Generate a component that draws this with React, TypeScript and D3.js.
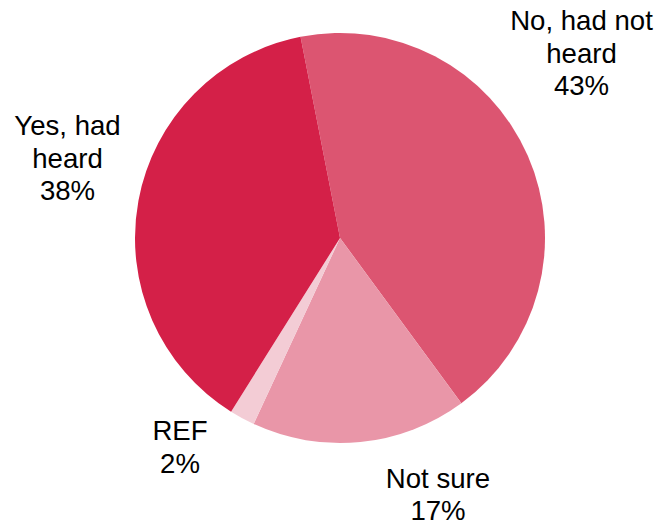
import React from "react";
import * as d3 from "d3";

const categories = ["No, had not heard", "Not sure", "REF", "Yes, had heard"];
const values = [43, 17, 2, 38];
const labelLines = [["No, had not", "heard"], ["Not sure"], ["REF"], ["Yes, had", "heard"]];
const colors = ["#dc5571", "#e996a8", "#f3ccd5", "#d42048"];

// label block anchor: [x, first baseline]
const labelAnchors: Record<string, [number, number]> = {
  "No, had not heard": [581.5, 30],
  "Not sure": [438, 487.5],
  "REF": [180, 440],
  "Yes, had heard": [67.5, 135],
};

const W = 656;
const H = 522;
const CX = 340;
const CY = 238;
const R = 205;
const START = (-11.1 * Math.PI) / 180;
const LINE_H = 32.5;

export default function App() {
  const pie = d3
    .pie<number>()
    .sort(null)
    .startAngle(START)
    .endAngle(START + 2 * Math.PI)
    .value((d) => d);
  const arcs = pie(values);
  const arc = d3.arc<d3.PieArcDatum<number>>().innerRadius(0).outerRadius(R);

  return (
    <svg
      width={W}
      height={H}
      style={{ position: "absolute", left: 0, top: 0, background: "#fff" }}
      fontFamily="'Liberation Sans', Arial, sans-serif"
    >
      <g transform={`translate(${CX},${CY})`}>
        {arcs.map((a, i) => (
          <path key={categories[i]} d={arc(a) || ""} fill={colors[i]} />
        ))}
      </g>
      {categories.map((c, i) => {
        const [x, y] = labelAnchors[c];
        const lines = [...labelLines[i], `${values[i]}%`];
        return (
          <text key={c} x={x} y={y} textAnchor="middle" fontSize={27.6} fill="#000">
            {lines.map((l, j) => (
              <tspan key={j} x={x} y={y + j * LINE_H}>
                {l}
              </tspan>
            ))}
          </text>
        );
      })}
    </svg>
  );
}
